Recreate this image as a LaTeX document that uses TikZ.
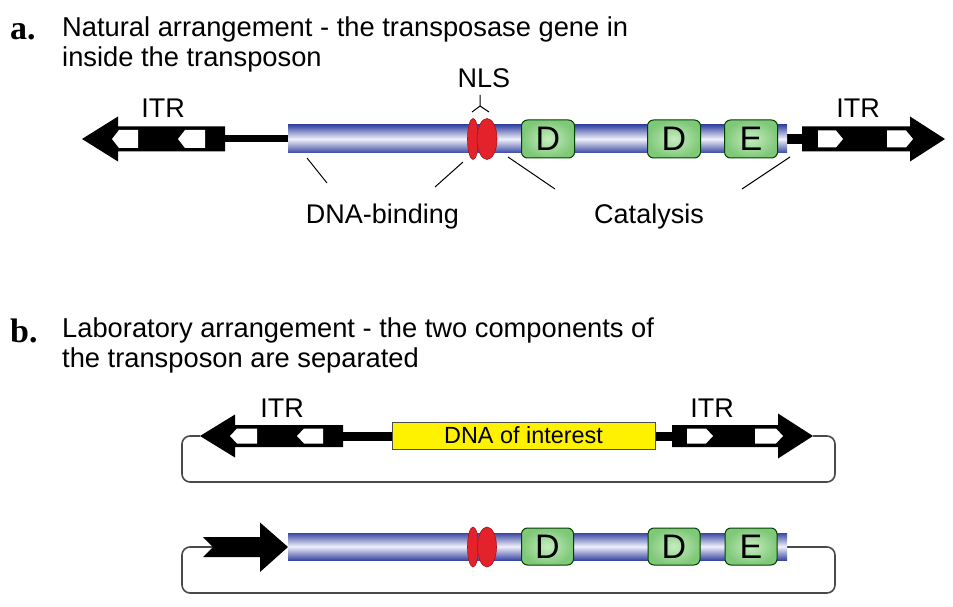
\documentclass[tikz,border=0pt]{standalone}
\usepackage{fontspec}
\setmainfont{Liberation Sans}
\newfontfamily\labfont{Liberation Serif}
\definecolor{barblue}{HTML}{3A48A3}
\definecolor{barlight}{HTML}{F0F0FA}
\definecolor{boxgreen}{HTML}{7FC878}
\definecolor{boxlight}{HTML}{C6ECC0}
\definecolor{nlsred}{HTML}{E3222B}
\definecolor{nlsedge}{HTML}{A8121A}
\definecolor{loopgray}{HTML}{4A4A4A}
\definecolor{dnayellow}{HTML}{FFF200}
\tikzset{
  headtext/.style={font=\fontsize{27.3}{30}\selectfont, anchor=base west, inner sep=0pt},
  labtext/.style={font=\fontsize{27}{30}\selectfont, anchor=base, inner sep=0pt},
  paneltag/.style={font=\labfont\bfseries\fontsize{34}{36}\selectfont, anchor=base west, inner sep=0pt},
  domtext/.style={font=\fontsize{34}{36}\selectfont, inner sep=0pt},
  blackshape/.style={fill=black, draw=none},
  whiteshape/.style={fill=white, draw=none},
  barshade/.style={top color=barblue, bottom color=barblue, middle color=barlight, draw=none},
  greenbox/.style={inner color=boxlight, outer color=boxgreen, draw=black!75!green, line width=1pt, rounded corners=6pt},
  nlsell/.style={fill=nlsred, draw=nlsedge, line width=0.6pt},
  pointer/.style={draw=black, line width=1pt},
  loopline/.style={draw=loopgray, line width=1.6pt, rounded corners=8pt},
}
\begin{document}
\begin{tikzpicture}[x=1pt,y=-1pt]
\useasboundingbox (0,0) rectangle (953,607);

% ---------- panel a text ----------
\node[paneltag] (taga) at (10,40) {a.};
\node[headtext] (heada1) at (62,37) {Natural arrangement - the transposase gene in};
\node[headtext] (heada2) at (62,67) {inside the transposon};

% ---------- panel a: left ITR ----------
\fill[blackshape] (288,135.5) rectangle (225,142.5);
\path[blackshape] (82,139) -- (118,116.5) -- (118,126.5) -- (225,126.5) -- (225,151.5) -- (118,151.5) -- (118,161.5) -- cycle;
\path[whiteshape] (112,139) -- (119,130) -- (138,130) -- (138,148) -- (119,148) -- cycle;
\path[whiteshape] (178,139) -- (185,130) -- (205,130) -- (205,148) -- (185,148) -- cycle;
\node[labtext] (itra1) at (163,118) {ITR};

% ---------- panel a: right ITR ----------
\fill[blackshape] (785,134) rectangle (802,144);
\path[blackshape] (945,139) -- (910,116.5) -- (910,126.5) -- (802,126.5) -- (802,151.5) -- (910,151.5) -- (910,161.5) -- cycle;
\path[whiteshape] (818,130.5) -- (836,130.5) -- (843,139) -- (836,147.5) -- (818,147.5) -- cycle;
\path[whiteshape] (887,130.5) -- (906,130.5) -- (913,139) -- (906,147.5) -- (887,147.5) -- cycle;
\node[labtext] (itra2) at (858,118) {ITR};

% ---------- panel a: transposase gene ----------
\shade[barshade] (288,125) rectangle (787,153);
\node[greenbox, minimum width=53pt, minimum height=38pt] (da1) at (548,139) {};
\node[greenbox, minimum width=53pt, minimum height=38pt] (da2) at (674,139) {};
\node[greenbox, minimum width=53pt, minimum height=38pt] (ea) at (751,139) {};
\node[domtext] at (da1) {D};
\node[domtext] at (da2) {D};
\node[domtext] at (ea) {E};
\draw[nlsell] (473,139) ellipse [x radius=5.5, y radius=20.5];
\draw[nlsell] (487,139) ellipse [x radius=10, y radius=20.5];
\node[labtext] (nls) at (484,88) {NLS};
\coordinate (nlsA) at (480,95);
\coordinate (nlsB) at (480,106);
\coordinate (nlsL) at (472,112);
\coordinate (nlsR) at (489,112);
\draw[line width=1pt] (nlsA) -- (nlsB) (nlsL) -- (nlsB) -- (nlsR);

% ---------- panel a: annotation ----------
\node[labtext] (dnab) at (382.5,223) {DNA-binding};
\node[labtext] (cat) at (649,223) {Catalysis};
\coordinate (p1a) at (307,158); \coordinate (p1b) at (327,183);
\coordinate (p2a) at (463,162); \coordinate (p2b) at (435,187);
\coordinate (p3a) at (508,157); \coordinate (p3b) at (555,189);
\coordinate (p4a) at (790,157); \coordinate (p4b) at (742,189);
\draw[pointer] (p1a) -- (p1b);
\draw[pointer] (p2a) -- (p2b);
\draw[pointer] (p3a) -- (p3b);
\draw[pointer] (p4a) -- (p4b);

% ---------- panel b text ----------
\node[paneltag] (tagb) at (10,342) {b.};
\node[headtext] (headb1) at (62,337) {Laboratory arrangement - the two components of};
\node[headtext] (headb2) at (62,367) {the transposon are separated};

% ---------- panel b: donor plasmid ----------
\draw[loopline] (200,436) -- (182,436) -- (182,482) -- (835,482) -- (835,436) -- (813,436);
\fill[blackshape] (340,431.5) rectangle (675,440.5);
\path[blackshape] (200,436) -- (235,414.5) -- (235,425) -- (343,425) -- (343,447) -- (235,447) -- (235,457.5) -- cycle;
\path[whiteshape] (230,436) -- (237,428.5) -- (257,428.5) -- (257,443.5) -- (237,443.5) -- cycle;
\path[whiteshape] (297,436) -- (304,428.5) -- (323,428.5) -- (323,443.5) -- (304,443.5) -- cycle;
\path[blackshape] (813,436) -- (778,413.5) -- (778,425) -- (672,425) -- (672,447) -- (778,447) -- (778,458.5) -- cycle;
\path[whiteshape] (687,428.5) -- (706,428.5) -- (713,436) -- (706,443.5) -- (687,443.5) -- cycle;
\path[whiteshape] (755,428.5) -- (776,428.5) -- (783,436) -- (776,443.5) -- (755,443.5) -- cycle;
\node[draw=black!70, line width=0.8pt, fill=dnayellow, minimum width=263pt, minimum height=27pt, inner sep=0pt,
      font=\fontsize{23.4}{26}\selectfont] (doi) at (523.5,435.5) {DNA of interest};
\node[labtext] (itrb1) at (282,417) {ITR};
\node[labtext] (itrb2) at (712,417) {ITR};

% ---------- panel b: helper plasmid ----------
\draw[loopline] (213,547) -- (182,547) -- (182,593) -- (835,593) -- (835,547) -- (787,547);
\path[blackshape] (203,537) -- (260,537) -- (260,522.5) -- (288,547) -- (260,572) -- (260,557) -- (203,557) -- (213,547) -- cycle;
\shade[barshade] (288,533) rectangle (787,560);
\node[greenbox, minimum width=52pt, minimum height=37pt] (db1) at (547.5,546.5) {};
\node[greenbox, minimum width=52pt, minimum height=37pt] (db2) at (674,546.5) {};
\node[greenbox, minimum width=52pt, minimum height=37pt] (eb) at (751,546.5) {};
\node[domtext] at (db1) {D};
\node[domtext] at (db2) {D};
\node[domtext] at (eb) {E};
\draw[nlsell] (473,547) ellipse [x radius=5.5, y radius=20];
\draw[nlsell] (487,547) ellipse [x radius=9.5, y radius=20];
\end{tikzpicture}
\end{document}
